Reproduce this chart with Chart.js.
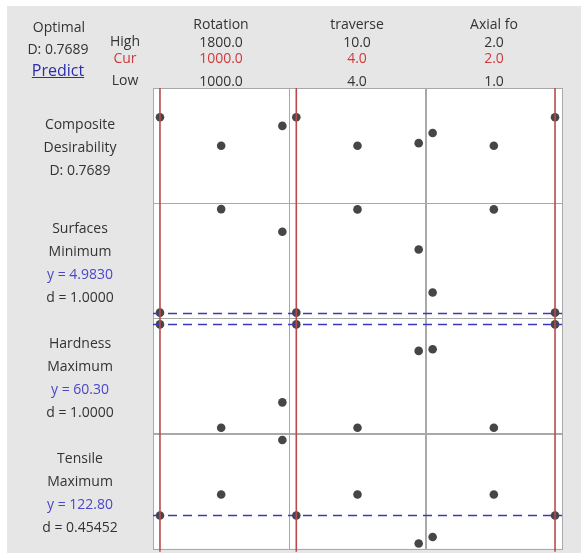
<!DOCTYPE html>
<html>
<head>
<meta charset="utf-8">
<script src="https://cdn.jsdelivr.net/npm/chart.js@4.4.0/dist/chart.umd.min.js"></script>
<style>
  body { margin: 0; background: #fff; font-family: "Open Sans", "Noto Sans", sans-serif; }
  #wrap { position: relative; width: 581px; height: 553px; overflow: hidden; }
  #back { position: absolute; left: 7px; top: 6px; right: 0; bottom: 0; background: #e6e6e6; }
  #opt { position: absolute; left: 0; top: 0; width: 581px; height: 553px; }
  .t { position: absolute; transform: translate(-50%, -50%); white-space: nowrap; font-size: 14px; color: #333; }
</style>
</head>
<body>
<div id="wrap">
  <div id="back"></div>
  <canvas id="opt" width="581" height="553"></canvas>
  <div id="labels"></div>
</div>
<script>
/* factor settings */
const factors = ['Rotation', 'traverse', 'Axial fo'];
const factorHigh = [1800, 10, 2];
const factorCur = [1000, 4, 2];
const factorLow = [1000, 4, 1];
const factorMid = [1400, 7, 1.5];
const factorDigits = [1, 1, 1];

/* responses */
const responses = ['Surfaces', 'Hardness', 'Tensile'];
const goals = ['Minimum', 'Maximum', 'Maximum'];
const predicted = [4.9830, 60.30, 122.80];
const predDigits = [4, 2, 2];
const desirability = ['1.0000', '1.0000', '0.45452'];
const compositeD = '0.7689';

/* predicted value at low / mid / high of each factor (others held at Cur) */
const curveD = [[0.7689, 0.513, 0.691], [0.7689, 0.513, 0.537], [0.628, 0.513, 0.7689]];
const curveSurf = [[4.983, 8.31, 7.58], [4.983, 8.30, 7.01], [5.63, 8.30, 4.983]];
const curveHard = [[60.30, 54.33, 55.80], [60.30, 54.33, 58.77], [58.87, 54.33, 60.30]];
const curveTens = [[122.80, 130.9, 151.9], [122.80, 130.9, 112.0], [114.5, 130.9, 122.80]];

/* y range of each row */
const yMin = [0, 4.8, 54, 110];
const yMax = [1.03, 8.5, 60.65, 154.4];

const curves = [curveD, curveSurf, curveHard, curveTens];
const xIds = ['x1', 'x2', 'x3'];
const yIds = ['y1', 'y2', 'y3', 'y4'];
const xPad = 0.057;

const hidden = {
  grid: { display: false, drawTicks: false },
  border: { display: false },
  ticks: { display: false }
};

const scales = {};
factors.forEach(function (f, i) {
  const span = factorHigh[i] - factorLow[i];
  scales[xIds[i]] = Object.assign({
    type: 'linear', position: 'bottom', stack: 'cols', stackWeight: 1,
    min: factorLow[i] - xPad * span, max: factorHigh[i] + xPad * span
  }, hidden);
});
// left-stacked axes are laid out bottom-up, so add them last row first
for (let j = yIds.length - 1; j >= 0; j--) {
  scales[yIds[j]] = Object.assign({
    type: 'linear', position: 'left', stack: 'rows', stackWeight: 1,
    min: yMin[j], max: yMax[j]
  }, hidden);
}

const datasets = [];
curves.forEach(function (curve, j) {
  factors.forEach(function (f, i) {
    const xs = [factorLow[i], factorMid[i], factorHigh[i]];
    datasets.push({
      data: xs.map(function (x, k) { return { x: x, y: curve[i][k] }; }),
      xAxisID: xIds[i],
      yAxisID: yIds[j],
      showLine: false,
      pointRadius: 4.3,
      pointBorderWidth: 0,
      pointBackgroundColor: '#464646'
    });
  });
});

/* panel frames, target lines and current settings */
const optimizerLines = {
  id: 'optimizerLines',
  beforeDatasetsDraw: function (chart) {
    const ctx = chart.ctx, a = chart.chartArea;
    ctx.save();
    ctx.fillStyle = '#fff';
    ctx.fillRect(a.left, a.top, a.width, a.height);
    ctx.strokeStyle = '#a9a9a9';
    ctx.lineWidth = 1;
    xIds.forEach(function (xi) {
      yIds.forEach(function (yi) {
        const sx = chart.scales[xi], sy = chart.scales[yi];
        ctx.strokeRect(Math.round(sx.left) + 0.5, Math.round(sy.top) + 0.5,
          Math.round(sx.width), Math.round(sy.height));
      });
    });
    ctx.restore();
  },
  afterDatasetsDraw: function (chart) {
    const ctx = chart.ctx, a = chart.chartArea;
    ctx.save();
    ctx.strokeStyle = '#3a3ab8';
    ctx.lineWidth = 1.3;
    ctx.setLineDash([9, 6]);
    predicted.forEach(function (v, j) {
      const y = Math.round(chart.scales[yIds[j + 1]].getPixelForValue(v)) + 0.5;
      ctx.beginPath();
      ctx.moveTo(a.left, y);
      ctx.lineTo(a.right, y);
      ctx.stroke();
    });
    ctx.setLineDash([]);
    ctx.strokeStyle = '#b94a4c';
    ctx.lineWidth = 1.6;
    factorCur.forEach(function (v, i) {
      const x = chart.scales[xIds[i]].getPixelForValue(v);
      ctx.beginPath();
      ctx.moveTo(x, a.top);
      ctx.lineTo(x, a.bottom + 3);
      ctx.stroke();
    });
    ctx.restore();
  }
};

new Chart(document.getElementById('opt'), {
  type: 'scatter',
  data: { datasets: datasets },
  options: {
    responsive: false,
    animation: false,
    layout: { padding: { left: 153, top: 88, right: 19, bottom: 3 } },
    scales: scales,
    plugins: { legend: { display: false }, tooltip: { enabled: false } }
  },
  plugins: [optimizerLines]
});

/* text */
const box = document.getElementById('labels');
function label(text, x, y, style) {
  const d = document.createElement('div');
  d.className = 't';
  d.textContent = text;
  d.style.left = x + 'px';
  d.style.top = y + 'px';
  if (style) Object.assign(d.style, style);
  box.appendChild(d);
}
const red = { color: '#d03a3a' };
const blue = { color: '#4a46c8' };
label('Optimal', 59, 26);
label('D: ' + compositeD, 58, 48);
label('Predict', 58, 70, { color: '#2b2bb4', fontSize: '16px', textDecoration: 'underline' });
label('High', 125, 40);
label('Cur', 125, 57, red);
label('Low', 125, 79);
const colCenters = [221, 357, 494];
factors.forEach(function (f, i) {
  const c = colCenters[i], n = factorDigits[i];
  label(f, c, 23);
  label(factorHigh[i].toFixed(n), c, 41);
  label(factorCur[i].toFixed(n), c, 57, red);
  label(factorLow[i].toFixed(n), c, 80);
});
label('Composite', 80, 123);
label('Desirability', 80, 146);
label('D: ' + compositeD, 80, 169);
const rowTops = [227, 342, 457];
responses.forEach(function (r, j) {
  const t = rowTops[j];
  label(r, 80, t);
  label(goals[j], 80, t + 23);
  label('y = ' + predicted[j].toFixed(predDigits[j]), 80, t + 46, blue);
  label('d = ' + desirability[j], 80, t + 69);
});
</script>
</body>
</html>
